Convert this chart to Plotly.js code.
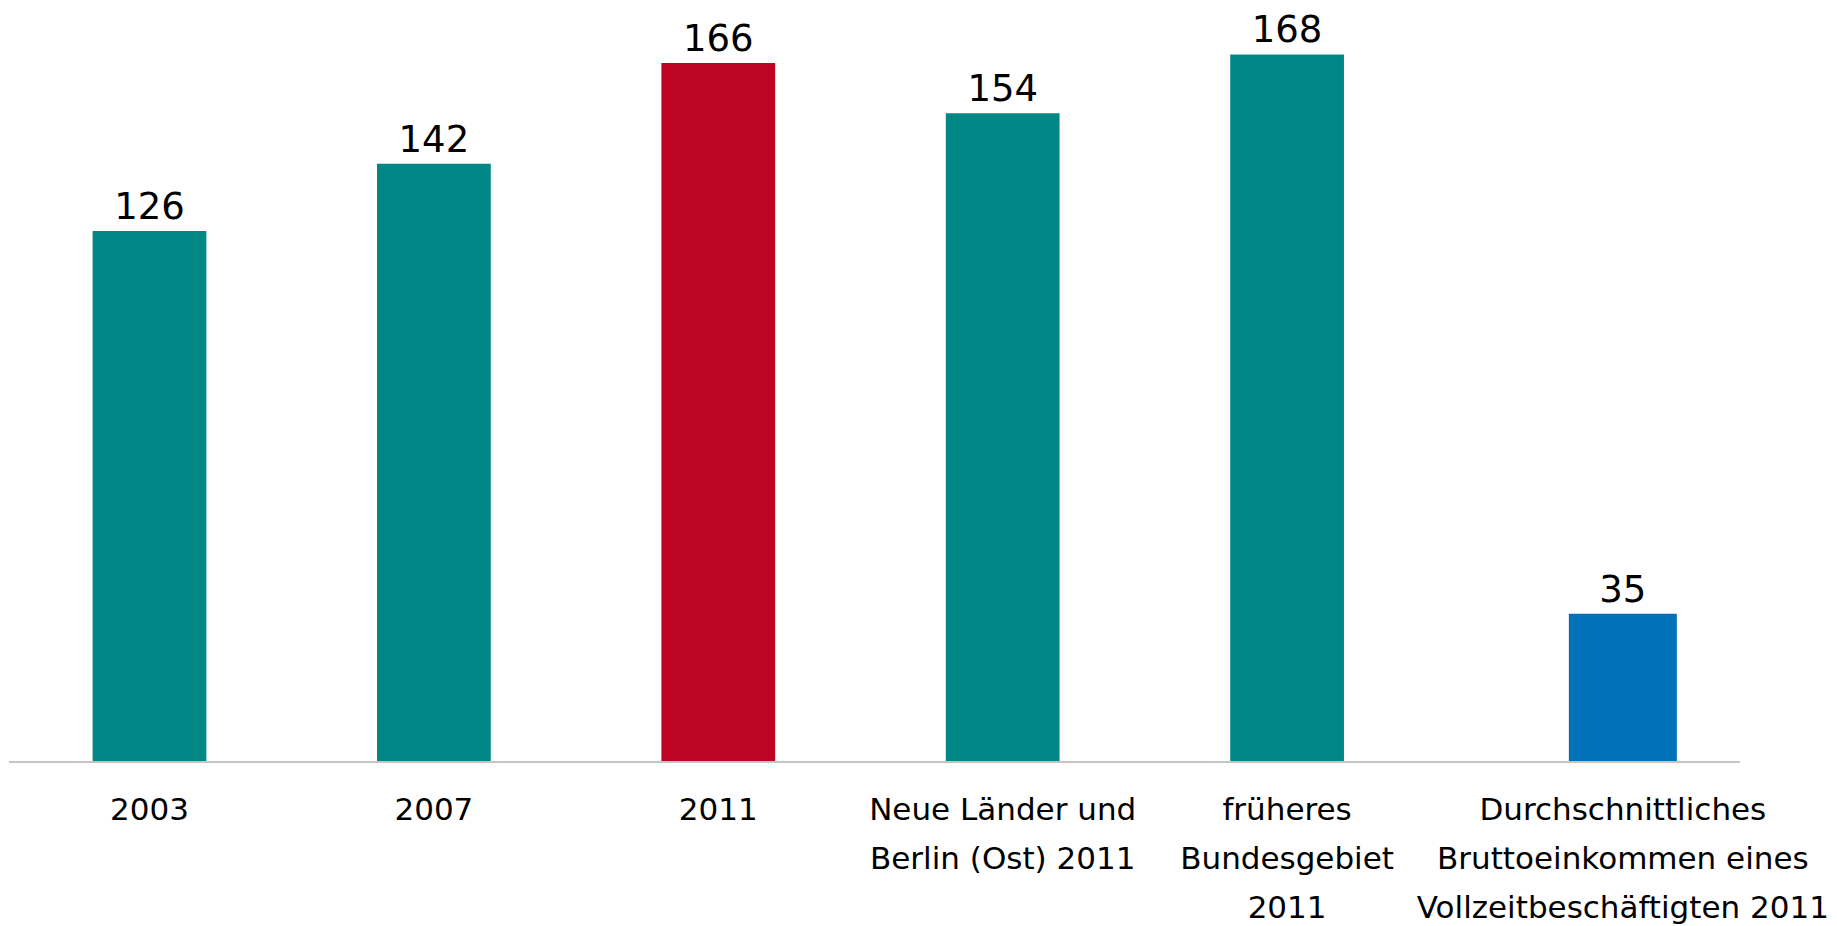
<!DOCTYPE html>
<html>
<head>
<meta charset="utf-8">
<script src="https://cdn.plot.ly/plotly-3.0.1.min.js"></script>
<style>
  html, body { margin: 0; padding: 0; background: #ffffff; }
  #chart { width: 1837px; height: 926px; }
</style>
</head>
<body>
<div id="chart"></div>
<script>
// ---- data ----
const categories = [
  "2003",
  "2007",
  "2011",
  "Neue Länder und<br>Berlin (Ost) 2011",
  "früheres<br>Bundesgebiet<br>2011",
  "Durchschnittliches<br>Bruttoeinkommen eines<br>Vollzeitbeschäftigten 2011"
];
const values = [126, 142, 166, 154, 168, 35];
const valueLabels = ["126", "142", "166", "154", "168", "35"];

// ---- styles ----
const colorTeal = "#008786";
const colorRed = "#BE0424";
const colorBlue = "#0070B8";
const barColors = [colorTeal, colorTeal, colorRed, colorTeal, colorTeal, colorBlue];
const fontFamily = "DejaVu Sans, Verdana, sans-serif";
const labelSize = 31;

// tick text: each line wrapped in a span so line spacing follows the larger base font
const tickText = categories.map(c =>
  c.split("<br>").map(line => `<span style="font-size:${labelSize}px">${line}</span>`).join("<br>")
);

// the first five bars (Unterhaltskosten) and the income bar sit in two panels
const split = 5;

function barTrace(from, to, xaxis) {
  return {
    type: "bar",
    x: categories.slice(from, to),
    y: values.slice(from, to),
    text: valueLabels.slice(from, to),
    xaxis: xaxis,
    yaxis: "y",
    textposition: "outside",
    cliponaxis: false,
    textfont: { family: fontFamily, size: 37, color: "#000000" },
    marker: { color: barColors.slice(from, to), line: { width: 0 } },
    hoverinfo: "x+y"
  };
}

const axisCommon = {
  type: "category",
  tickmode: "array",
  tickangle: 0,
  ticks: "",
  showgrid: false,
  zeroline: false,
  showline: true,
  linecolor: "#c4c4c4",
  linewidth: 2,
  ticklabelstandoff: 12,
  tickfont: { family: fontFamily, size: 37.7, color: "#000000" },
  anchor: "y"
};

const layout = {
  width: 1837,
  height: 926,
  margin: { l: 9, r: 97, t: 4, b: 165 },
  paper_bgcolor: "#ffffff",
  plot_bgcolor: "#ffffff",
  showlegend: false,
  bargap: 0.6,
  xaxis: Object.assign({}, axisCommon, {
    domain: [0, 0.8205],
    range: [-0.494, 4.5],
    tickvals: categories.slice(0, split),
    ticktext: tickText.slice(0, split)
  }),
  xaxis2: Object.assign({}, axisCommon, {
    domain: [0.8205, 1],
    range: [-0.717, 0.434],
    tickvals: categories.slice(split),
    ticktext: tickText.slice(split)
  }),
  yaxis: {
    range: [0, 180],
    visible: false,
    showgrid: false,
    zeroline: false
  }
};

Plotly.newPlot("chart", [barTrace(0, split, "x"), barTrace(split, categories.length, "x2")], layout,
  { displayModeBar: false, staticPlot: true });
</script>
</body>
</html>
